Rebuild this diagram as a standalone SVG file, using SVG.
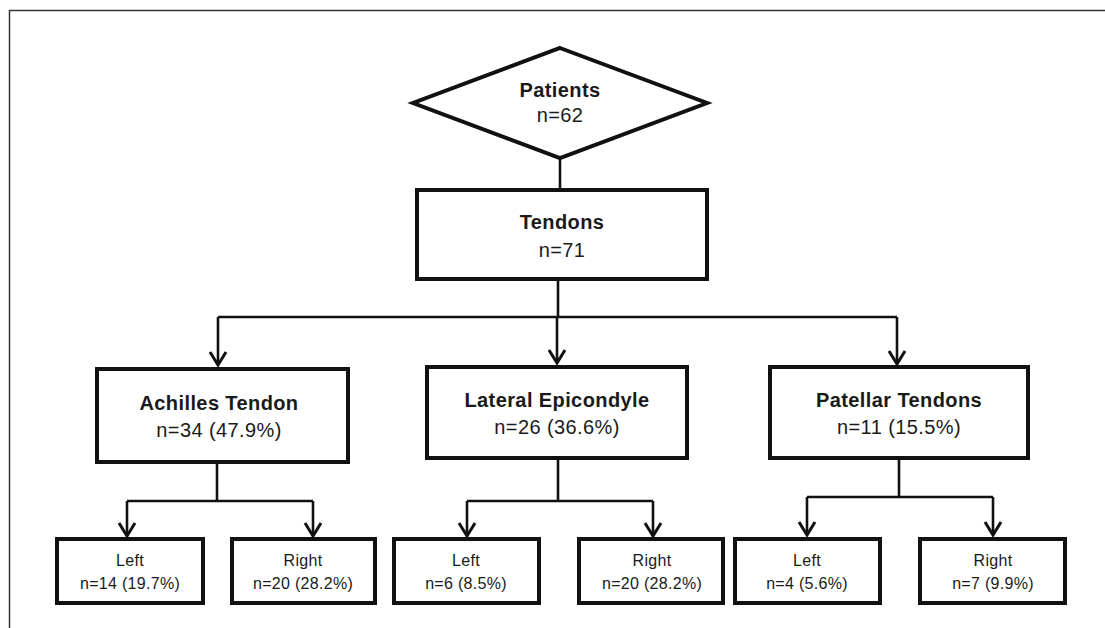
<svg xmlns="http://www.w3.org/2000/svg" width="1105" height="628" viewBox="0 0 1105 628">
  <style>
    .box { fill: #ffffff; stroke: #111111; stroke-width: 4; }
    .conn { fill: none; stroke: #111111; stroke-width: 2.6; }
    .t { font-family: "Liberation Sans", Arial, sans-serif; fill: #1a1a1a; text-anchor: middle; }
    .big { font-size: 20px; letter-spacing: 0.4px; }
    .bold { font-weight: bold; }
    .small { font-size: 16px; letter-spacing: 0.3px; }
  </style>
  <defs>
    <marker id="arr" markerUnits="userSpaceOnUse" viewBox="-16 -11 18 22" markerWidth="18" markerHeight="22" refX="0" refY="0" orient="auto">
      <path d="M-13,-8 L0,0 L-13,8" fill="none" stroke="#111111" stroke-width="3" stroke-linejoin="miter"/>
    </marker>
  </defs>
  <rect x="0" y="0" width="1105" height="628" fill="#ffffff"/>
  <path d="M9.5,628 V10.5 H1105" fill="none" stroke="#333333" stroke-width="1.5"/>

  <g id="connectors">
    <path class="conn" d="M560,158 V190"/>
    <path class="conn" d="M558,279 V317"/>
    <path class="conn" d="M218,317 H897"/>
    <path class="conn" d="M218,317 V365" marker-end="url(#arr)"/>
    <path class="conn" d="M557,317 V363" marker-end="url(#arr)"/>
    <path class="conn" d="M897,317 V364" marker-end="url(#arr)"/>

    <path class="conn" d="M217,462 V501"/>
    <path class="conn" d="M127,501 H313"/>
    <path class="conn" d="M127,501 V536" marker-end="url(#arr)"/>
    <path class="conn" d="M313,501 V536" marker-end="url(#arr)"/>

    <path class="conn" d="M558,458 V501"/>
    <path class="conn" d="M467,501 H653"/>
    <path class="conn" d="M467,501 V536" marker-end="url(#arr)"/>
    <path class="conn" d="M653,501 V536" marker-end="url(#arr)"/>

    <path class="conn" d="M899,458 V497"/>
    <path class="conn" d="M807,497 H993"/>
    <path class="conn" d="M807,497 V535" marker-end="url(#arr)"/>
    <path class="conn" d="M993,497 V535" marker-end="url(#arr)"/>
  </g>

  <g id="patients">
    <polygon class="box" points="560,48 707,103 560,158 413,103" stroke-width="3.5"/>
    <text class="t big bold" x="560" y="97">Patients</text>
    <text class="t big" x="560" y="122">n=62</text>
  </g>

  <g id="tendons">
    <rect class="box" x="417" y="190" width="290" height="89"/>
    <text class="t big bold" x="562" y="229">Tendons</text>
    <text class="t big" x="562" y="257">n=71</text>
  </g>

  <g id="achilles">
    <rect class="box" x="97" y="369" width="251" height="93"/>
    <text class="t big bold" x="219" y="410">Achilles Tendon</text>
    <text class="t big" x="219" y="437">n=34 (47.9%)</text>
  </g>

  <g id="lateral">
    <rect class="box" x="427" y="367" width="260" height="91"/>
    <text class="t big bold" x="557" y="407">Lateral Epicondyle</text>
    <text class="t big" x="557" y="434">n=26 (36.6%)</text>
  </g>

  <g id="patellar">
    <rect class="box" x="770" y="367" width="258" height="91"/>
    <text class="t big bold" x="899" y="407">Patellar Tendons</text>
    <text class="t big" x="899" y="434">n=11 (15.5%)</text>
  </g>

  <g id="achilles-left">
    <rect class="box" x="57" y="539" width="146" height="64"/>
    <text class="t small" x="130" y="566">Left</text>
    <text class="t small" x="130" y="589">n=14 (19.7%)</text>
  </g>
  <g id="achilles-right">
    <rect class="box" x="232" y="539" width="143" height="64"/>
    <text class="t small" x="303" y="566">Right</text>
    <text class="t small" x="303" y="589">n=20 (28.2%)</text>
  </g>

  <g id="lateral-left">
    <rect class="box" x="394" y="539" width="145" height="64"/>
    <text class="t small" x="466" y="566">Left</text>
    <text class="t small" x="466" y="589">n=6 (8.5%)</text>
  </g>
  <g id="lateral-right">
    <rect class="box" x="579" y="539" width="144" height="64"/>
    <text class="t small" x="652" y="566">Right</text>
    <text class="t small" x="652" y="589">n=20 (28.2%)</text>
  </g>

  <g id="patellar-left">
    <rect class="box" x="735" y="539" width="145" height="64"/>
    <text class="t small" x="807" y="566">Left</text>
    <text class="t small" x="807" y="589">n=4 (5.6%)</text>
  </g>
  <g id="patellar-right">
    <rect class="box" x="920" y="539" width="145" height="64"/>
    <text class="t small" x="993" y="566">Right</text>
    <text class="t small" x="993" y="589">n=7 (9.9%)</text>
  </g>
</svg>
